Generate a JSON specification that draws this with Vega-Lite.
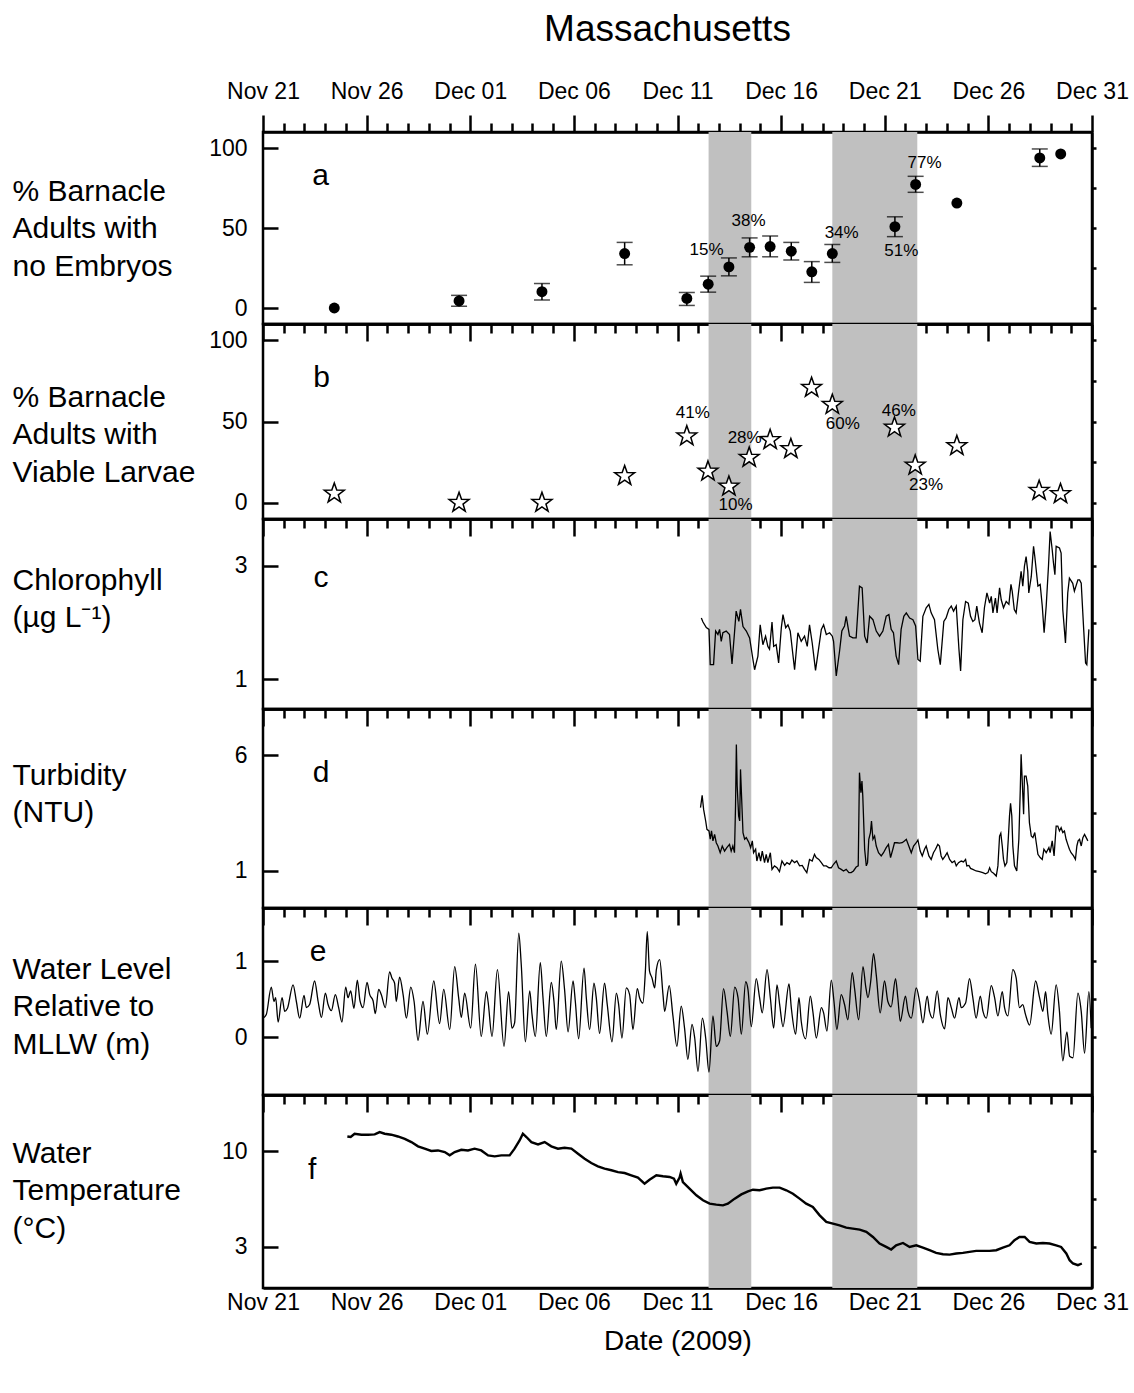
{
"$schema": "https://vega.github.io/schema/vega-lite/v6.json",
"padding": {"left": 10, "top": 10, "right": 5, "bottom": 5},
"background": "white",
"title": {"text": "Massachusetts", "fontSize": 37, "fontWeight": "normal", "anchor": "middle", "frame": "group", "dx": -10, "offset": 30, "color": "black", "font": "Liberation Sans"},
"config": {
  "font": "Liberation Sans",
  "view": {"stroke": "black", "strokeWidth": 2.5},
  "axis": {"domainColor": "black", "domainWidth": 2.5, "tickColor": "black", "tickWidth": 2.5, "labelColor": "black", "labelFontSize": 23, "labelFont": "Liberation Sans", "titleColor": "black", "titleFont": "Liberation Sans", "titleFontWeight": "normal", "grid": false, "zindex": 1, "labelFlush": false, "labelOverlap": false, "labelBound": false}
},
"datasets": {
  "bands": [{"start": 21.5, "end": 23.56}, {"start": 27.47, "end": 31.57}],
  "embryo": [
    {"day":3.44,"pct":0,"lo":null,"hi":null},
    {"day":9.46,"pct":4.4,"lo":1.1,"hi":7.9},
    {"day":13.46,"pct":10.2,"lo":5.0,"hi":15.3},
    {"day":17.45,"pct":34.0,"lo":27,"hi":41},
    {"day":20.45,"pct":6,"lo":1.6,"hi":9.7},
    {"day":21.48,"pct":14.9,"lo":9.9,"hi":19.9},
    {"day":22.48,"pct":25.7,"lo":20.1,"hi":31.3},
    {"day":23.48,"pct":37.9,"lo":32,"hi":43.8},
    {"day":24.47,"pct":38.4,"lo":32,"hi":45},
    {"day":25.49,"pct":35.5,"lo":30,"hi":41},
    {"day":26.48,"pct":22.6,"lo":16,"hi":29},
    {"day":27.47,"pct":34,"lo":28.5,"hi":39.7},
    {"day":30.49,"pct":50.8,"lo":44.6,"hi":57},
    {"day":31.49,"pct":77.2,"lo":72.3,"hi":82.3},
    {"day":33.48,"pct":65.6,"lo":null,"hi":null},
    {"day":37.48,"pct":93.8,"lo":88.5,"hi":99.4},
    {"day":38.49,"pct":96.3,"lo":null,"hi":null}
  ],
  "embryoLabels": [
    {"day":21.4,"pct":36.3,"label":"15%"},
    {"day":23.43,"pct":54.1,"label":"38%"},
    {"day":27.92,"pct":46.9,"label":"34%"},
    {"day":30.8,"pct":35.7,"label":"51%"},
    {"day":31.92,"pct":90.4,"label":"77%"}
  ],
  "larvae": [
    {"day":3.44,"pct":5.7},{"day":9.46,"pct":0},{"day":13.46,"pct":0},{"day":17.45,"pct":16.5},{"day":20.45,"pct":41},{"day":21.47,"pct":19.3},{"day":22.48,"pct":10},{"day":23.46,"pct":27.8},{"day":24.47,"pct":38.7},{"day":25.47,"pct":33.1},{"day":26.47,"pct":70.8},{"day":27.47,"pct":60.3},{"day":30.47,"pct":46.3},{"day":31.47,"pct":23},{"day":33.48,"pct":35},{"day":37.45,"pct":7.4},{"day":38.48,"pct":5.4}
  ],
  "larvaeLabels": [
    {"day":20.74,"pct":55.1,"label":"41%"},
    {"day":22.8,"pct":-1.4,"label":"10%"},
    {"day":23.24,"pct":39.7,"label":"28%"},
    {"day":27.98,"pct":48.6,"label":"60%"},
    {"day":30.68,"pct":56.2,"label":"46%"},
    {"day":31.99,"pct":11,"label":"23%"}
  ],
  "chl": [{"day":21.15,"chl":2.08},{"day":21.23,"chl":2.01},{"day":21.39,"chl":1.91},{"day":21.52,"chl":1.88},{"day":21.58,"chl":1.26},{"day":21.74,"chl":1.26},{"day":21.84,"chl":1.85},{"day":21.95,"chl":1.79},{"day":22.03,"chl":1.88},{"day":22.11,"chl":1.67},{"day":22.19,"chl":1.82},{"day":22.35,"chl":1.85},{"day":22.51,"chl":1.79},{"day":22.63,"chl":1.27},{"day":22.75,"chl":1.82},{"day":22.83,"chl":2.2},{"day":22.96,"chl":2.02},{"day":23.04,"chl":2.23},{"day":23.16,"chl":1.93},{"day":23.32,"chl":1.85},{"day":23.48,"chl":1.73},{"day":23.64,"chl":1.35},{"day":23.72,"chl":1.17},{"day":23.88,"chl":1.41},{"day":23.99,"chl":1.96},{"day":24.12,"chl":1.61},{"day":24.25,"chl":1.76},{"day":24.36,"chl":1.58},{"day":24.44,"chl":1.53},{"day":24.56,"chl":2.01},{"day":24.64,"chl":1.58},{"day":24.76,"chl":1.61},{"day":24.88,"chl":1.29},{"day":25.01,"chl":1.91},{"day":25.09,"chl":2.14},{"day":25.22,"chl":1.91},{"day":25.33,"chl":1.96},{"day":25.44,"chl":1.85},{"day":25.65,"chl":1.17},{"day":25.81,"chl":1.82},{"day":25.97,"chl":1.67},{"day":26.13,"chl":1.76},{"day":26.26,"chl":1.58},{"day":26.37,"chl":1.96},{"day":26.5,"chl":1.64},{"day":26.66,"chl":1.16},{"day":26.77,"chl":1.44},{"day":26.94,"chl":1.88},{"day":27.05,"chl":1.96},{"day":27.18,"chl":1.79},{"day":27.34,"chl":1.82},{"day":27.47,"chl":1.76},{"day":27.53,"chl":1.67},{"day":27.66,"chl":1.06},{"day":27.82,"chl":1.5},{"day":27.93,"chl":1.85},{"day":28.06,"chl":1.94},{"day":28.14,"chl":2.11},{"day":28.3,"chl":1.76},{"day":28.46,"chl":1.73},{"day":28.62,"chl":1.73},{"day":28.78,"chl":2.64},{"day":28.91,"chl":2.61},{"day":29.03,"chl":1.76},{"day":29.15,"chl":1.64},{"day":29.27,"chl":2.11},{"day":29.43,"chl":2.05},{"day":29.59,"chl":1.85},{"day":29.75,"chl":1.76},{"day":29.91,"chl":1.85},{"day":30.07,"chl":2.11},{"day":30.2,"chl":2.14},{"day":30.31,"chl":1.88},{"day":30.42,"chl":1.82},{"day":30.55,"chl":1.41},{"day":30.67,"chl":1.26},{"day":30.79,"chl":1.88},{"day":30.92,"chl":2.11},{"day":31.04,"chl":2.17},{"day":31.2,"chl":2.08},{"day":31.36,"chl":2.05},{"day":31.49,"chl":1.94},{"day":31.6,"chl":1.35},{"day":31.71,"chl":1.32},{"day":31.84,"chl":2.11},{"day":32.0,"chl":2.26},{"day":32.13,"chl":2.32},{"day":32.24,"chl":2.17},{"day":32.4,"chl":2.05},{"day":32.56,"chl":1.53},{"day":32.68,"chl":1.26},{"day":32.85,"chl":2.02},{"day":32.96,"chl":2.08},{"day":33.09,"chl":2.23},{"day":33.21,"chl":2.29},{"day":33.32,"chl":2.2},{"day":33.45,"chl":2.29},{"day":33.58,"chl":1.53},{"day":33.66,"chl":1.15},{"day":33.77,"chl":2.05},{"day":33.9,"chl":2.37},{"day":34.03,"chl":2.34},{"day":34.14,"chl":2.11},{"day":34.25,"chl":2.02},{"day":34.35,"chl":2.05},{"day":34.44,"chl":2.29},{"day":34.57,"chl":1.99},{"day":34.7,"chl":1.82},{"day":34.81,"chl":2.26},{"day":34.93,"chl":2.52},{"day":35.06,"chl":2.34},{"day":35.14,"chl":2.46},{"day":35.22,"chl":2.17},{"day":35.34,"chl":2.43},{"day":35.42,"chl":2.17},{"day":35.54,"chl":2.61},{"day":35.62,"chl":2.4},{"day":35.73,"chl":2.26},{"day":35.86,"chl":2.37},{"day":35.99,"chl":2.32},{"day":36.09,"chl":2.67},{"day":36.15,"chl":2.55},{"day":36.25,"chl":2.23},{"day":36.34,"chl":2.17},{"day":36.47,"chl":2.58},{"day":36.58,"chl":2.9},{"day":36.66,"chl":2.64},{"day":36.74,"chl":2.99},{"day":36.82,"chl":3.16},{"day":36.9,"chl":2.9},{"day":36.95,"chl":2.52},{"day":37.07,"chl":2.81},{"day":37.18,"chl":3.34},{"day":37.24,"chl":3.16},{"day":37.39,"chl":2.64},{"day":37.5,"chl":2.67},{"day":37.6,"chl":2.29},{"day":37.69,"chl":1.82},{"day":37.79,"chl":2.29},{"day":37.9,"chl":2.99},{"day":37.98,"chl":3.6},{"day":38.08,"chl":3.28},{"day":38.14,"chl":3.05},{"day":38.21,"chl":2.84},{"day":38.27,"chl":3.34},{"day":38.43,"chl":3.31},{"day":38.51,"chl":3.22},{"day":38.59,"chl":2.23},{"day":38.72,"chl":1.64},{"day":38.83,"chl":2.52},{"day":38.91,"chl":2.78},{"day":39.07,"chl":2.69},{"day":39.15,"chl":2.55},{"day":39.32,"chl":2.75},{"day":39.4,"chl":2.75},{"day":39.48,"chl":2.69},{"day":39.59,"chl":1.94},{"day":39.69,"chl":1.29},{"day":39.75,"chl":1.26},{"day":39.85,"chl":1.88}],
  "turb": [{"day":21.11,"ntu":3.74},{"day":21.19,"ntu":4.27},{"day":21.26,"ntu":3.66},{"day":21.36,"ntu":3.16},{"day":21.42,"ntu":2.8},{"day":21.52,"ntu":2.73},{"day":21.58,"ntu":2.37},{"day":21.64,"ntu":2.73},{"day":21.71,"ntu":2.3},{"day":21.79,"ntu":2.58},{"day":21.87,"ntu":2.22},{"day":21.95,"ntu":2.08},{"day":22.06,"ntu":1.79},{"day":22.16,"ntu":2.08},{"day":22.27,"ntu":1.86},{"day":22.38,"ntu":2.01},{"day":22.51,"ntu":2.15},{"day":22.59,"ntu":1.86},{"day":22.67,"ntu":2.08},{"day":22.75,"ntu":1.79},{"day":22.8,"ntu":3.81},{"day":22.84,"ntu":6.47},{"day":22.88,"ntu":4.67},{"day":22.95,"ntu":3.38},{"day":23.0,"ntu":3.16},{"day":23.04,"ntu":5.39},{"day":23.09,"ntu":4.24},{"day":23.16,"ntu":2.66},{"day":23.24,"ntu":2.37},{"day":23.32,"ntu":2.44},{"day":23.45,"ntu":2.22},{"day":23.53,"ntu":2.01},{"day":23.61,"ntu":2.3},{"day":23.67,"ntu":1.79},{"day":23.77,"ntu":1.94},{"day":23.83,"ntu":1.43},{"day":23.93,"ntu":1.79},{"day":24.01,"ntu":1.43},{"day":24.09,"ntu":1.86},{"day":24.2,"ntu":1.36},{"day":24.28,"ntu":1.72},{"day":24.36,"ntu":1.36},{"day":24.48,"ntu":1.79},{"day":24.56,"ntu":1.07},{"day":24.68,"ntu":1.22},{"day":24.8,"ntu":1.14},{"day":24.92,"ntu":0.97},{"day":25.04,"ntu":1.43},{"day":25.17,"ntu":1.24},{"day":25.28,"ntu":1.36},{"day":25.41,"ntu":1.29},{"day":25.52,"ntu":1.47},{"day":25.65,"ntu":1.36},{"day":25.76,"ntu":1.43},{"day":25.89,"ntu":1.22},{"day":26.02,"ntu":1.24},{"day":26.13,"ntu":1.07},{"day":26.24,"ntu":0.93},{"day":26.37,"ntu":1.5},{"day":26.5,"ntu":1.43},{"day":26.61,"ntu":1.72},{"day":26.69,"ntu":1.58},{"day":26.82,"ntu":1.5},{"day":26.94,"ntu":1.36},{"day":27.05,"ntu":1.22},{"day":27.18,"ntu":1.22},{"day":27.31,"ntu":1.14},{"day":27.42,"ntu":1.14},{"day":27.53,"ntu":1.29},{"day":27.66,"ntu":1.43},{"day":27.77,"ntu":1.14},{"day":27.9,"ntu":1.07},{"day":28.01,"ntu":1.0},{"day":28.14,"ntu":1.07},{"day":28.27,"ntu":0.93},{"day":28.38,"ntu":0.93},{"day":28.49,"ntu":1.0},{"day":28.62,"ntu":1.17},{"day":28.72,"ntu":1.22},{"day":28.78,"ntu":5.25},{"day":28.85,"ntu":4.38},{"day":28.9,"ntu":4.89},{"day":28.94,"ntu":4.24},{"day":29.03,"ntu":1.94},{"day":29.11,"ntu":1.22},{"day":29.17,"ntu":1.36},{"day":29.23,"ntu":2.37},{"day":29.31,"ntu":2.66},{"day":29.36,"ntu":3.16},{"day":29.43,"ntu":2.37},{"day":29.51,"ntu":2.51},{"day":29.59,"ntu":2.08},{"day":29.7,"ntu":1.79},{"day":29.83,"ntu":1.65},{"day":29.94,"ntu":1.79},{"day":30.07,"ntu":2.01},{"day":30.18,"ntu":2.15},{"day":30.28,"ntu":1.58},{"day":30.39,"ntu":1.94},{"day":30.47,"ntu":2.22},{"day":30.59,"ntu":2.22},{"day":30.71,"ntu":2.2},{"day":30.84,"ntu":2.22},{"day":30.95,"ntu":2.3},{"day":31.04,"ntu":2.37},{"day":31.16,"ntu":2.08},{"day":31.28,"ntu":1.79},{"day":31.39,"ntu":2.08},{"day":31.52,"ntu":2.22},{"day":31.6,"ntu":2.34},{"day":31.71,"ntu":1.86},{"day":31.81,"ntu":1.65},{"day":31.92,"ntu":1.94},{"day":32.0,"ntu":2.08},{"day":32.13,"ntu":1.65},{"day":32.24,"ntu":1.5},{"day":32.35,"ntu":1.79},{"day":32.45,"ntu":1.94},{"day":32.56,"ntu":2.15},{"day":32.64,"ntu":2.08},{"day":32.72,"ntu":1.65},{"day":32.8,"ntu":1.5},{"day":32.92,"ntu":1.65},{"day":33.01,"ntu":1.79},{"day":33.13,"ntu":1.5},{"day":33.25,"ntu":1.36},{"day":33.37,"ntu":1.43},{"day":33.45,"ntu":1.22},{"day":33.56,"ntu":1.36},{"day":33.69,"ntu":1.43},{"day":33.8,"ntu":1.39},{"day":33.9,"ntu":1.5},{"day":33.96,"ntu":1.22},{"day":34.06,"ntu":1.24},{"day":34.14,"ntu":1.11},{"day":34.25,"ntu":1.07},{"day":34.41,"ntu":1.0},{"day":34.57,"ntu":0.97},{"day":34.73,"ntu":0.93},{"day":34.86,"ntu":0.88},{"day":34.98,"ntu":0.93},{"day":35.06,"ntu":1.14},{"day":35.14,"ntu":0.97},{"day":35.25,"ntu":0.9},{"day":35.38,"ntu":0.78},{"day":35.46,"ntu":1.22},{"day":35.54,"ntu":2.51},{"day":35.6,"ntu":2.63},{"day":35.67,"ntu":2.08},{"day":35.73,"ntu":1.5},{"day":35.8,"ntu":1.22},{"day":35.89,"ntu":1.36},{"day":35.96,"ntu":2.37},{"day":36.02,"ntu":3.38},{"day":36.07,"ntu":3.92},{"day":36.13,"ntu":3.38},{"day":36.18,"ntu":2.08},{"day":36.26,"ntu":1.22},{"day":36.37,"ntu":1.0},{"day":36.47,"ntu":2.37},{"day":36.54,"ntu":4.53},{"day":36.58,"ntu":6.04},{"day":36.63,"ntu":4.96},{"day":36.7,"ntu":3.45},{"day":36.74,"ntu":5.1},{"day":36.82,"ntu":5.1},{"day":36.9,"ntu":4.67},{"day":36.98,"ntu":3.09},{"day":37.07,"ntu":2.51},{"day":37.15,"ntu":2.44},{"day":37.24,"ntu":2.66},{"day":37.31,"ntu":2.22},{"day":37.39,"ntu":1.72},{"day":37.5,"ntu":1.58},{"day":37.6,"ntu":1.5},{"day":37.68,"ntu":1.94},{"day":37.79,"ntu":1.79},{"day":37.92,"ntu":2.01},{"day":37.98,"ntu":1.79},{"day":38.08,"ntu":2.3},{"day":38.17,"ntu":1.65},{"day":38.27,"ntu":2.94},{"day":38.35,"ntu":2.94},{"day":38.43,"ntu":2.73},{"day":38.51,"ntu":2.87},{"day":38.59,"ntu":2.66},{"day":38.67,"ntu":2.73},{"day":38.75,"ntu":2.37},{"day":38.83,"ntu":2.15},{"day":38.91,"ntu":1.94},{"day":38.99,"ntu":1.79},{"day":39.11,"ntu":1.65},{"day":39.2,"ntu":1.5},{"day":39.27,"ntu":2.08},{"day":39.33,"ntu":2.3},{"day":39.4,"ntu":2.37},{"day":39.48,"ntu":2.08},{"day":39.56,"ntu":2.44},{"day":39.64,"ntu":2.58},{"day":39.72,"ntu":2.44},{"day":39.8,"ntu":2.3}],
  "wl": [{"day":0.0,"lvl":0.25},{"day":0.16,"lvl":0.3},{"day":0.4,"lvl":0.66},{"day":0.53,"lvl":0.47},{"day":0.61,"lvl":0.52},{"day":0.73,"lvl":0.2},{"day":0.92,"lvl":0.52},{"day":1.05,"lvl":0.34},{"day":1.18,"lvl":0.38},{"day":1.45,"lvl":0.69},{"day":1.61,"lvl":0.47},{"day":1.77,"lvl":0.25},{"day":1.98,"lvl":0.55},{"day":2.09,"lvl":0.39},{"day":2.25,"lvl":0.43},{"day":2.49,"lvl":0.74},{"day":2.66,"lvl":0.47},{"day":2.82,"lvl":0.26},{"day":3.01,"lvl":0.58},{"day":3.14,"lvl":0.43},{"day":3.3,"lvl":0.35},{"day":3.49,"lvl":0.56},{"day":3.65,"lvl":0.39},{"day":3.81,"lvl":0.2},{"day":3.99,"lvl":0.66},{"day":4.1,"lvl":0.52},{"day":4.23,"lvl":0.61},{"day":4.39,"lvl":0.38},{"day":4.55,"lvl":0.75},{"day":4.68,"lvl":0.48},{"day":4.83,"lvl":0.39},{"day":5.02,"lvl":0.72},{"day":5.15,"lvl":0.56},{"day":5.31,"lvl":0.48},{"day":5.42,"lvl":0.31},{"day":5.58,"lvl":0.63},{"day":5.71,"lvl":0.56},{"day":5.9,"lvl":0.39},{"day":6.11,"lvl":0.86},{"day":6.22,"lvl":0.78},{"day":6.35,"lvl":0.71},{"day":6.43,"lvl":0.47},{"day":6.59,"lvl":0.79},{"day":6.76,"lvl":0.56},{"day":6.92,"lvl":0.25},{"day":7.13,"lvl":0.66},{"day":7.29,"lvl":0.47},{"day":7.48,"lvl":-0.04},{"day":7.72,"lvl":0.47},{"day":7.93,"lvl":0.04},{"day":8.24,"lvl":0.74},{"day":8.52,"lvl":0.18},{"day":8.72,"lvl":0.63},{"day":9.01,"lvl":0.1},{"day":9.25,"lvl":0.93},{"day":9.44,"lvl":0.52},{"day":9.57,"lvl":0.26},{"day":9.73,"lvl":0.58},{"day":10.02,"lvl":0.12},{"day":10.25,"lvl":0.96},{"day":10.53,"lvl":0.01},{"day":10.78,"lvl":0.6},{"day":10.86,"lvl":0.47},{"day":11.05,"lvl":0.01},{"day":11.31,"lvl":0.89},{"day":11.63,"lvl":-0.12},{"day":11.85,"lvl":0.6},{"day":12.01,"lvl":0.12},{"day":12.14,"lvl":0.19},{"day":12.34,"lvl":1.37},{"day":12.46,"lvl":0.96},{"day":12.66,"lvl":-0.06},{"day":12.87,"lvl":0.61},{"day":12.98,"lvl":0.3},{"day":13.14,"lvl":0.01},{"day":13.38,"lvl":0.98},{"day":13.51,"lvl":0.52},{"day":13.67,"lvl":0.01},{"day":13.91,"lvl":0.72},{"day":14.04,"lvl":0.47},{"day":14.15,"lvl":0.1},{"day":14.39,"lvl":1.0},{"day":14.55,"lvl":0.63},{"day":14.72,"lvl":0.07},{"day":14.96,"lvl":0.74},{"day":15.07,"lvl":0.47},{"day":15.23,"lvl":-0.02},{"day":15.49,"lvl":0.91},{"day":15.6,"lvl":0.52},{"day":15.76,"lvl":0.1},{"day":15.97,"lvl":0.71},{"day":16.08,"lvl":0.52},{"day":16.24,"lvl":0.05},{"day":16.48,"lvl":0.71},{"day":16.61,"lvl":0.43},{"day":16.84,"lvl":-0.06},{"day":17.05,"lvl":0.58},{"day":17.16,"lvl":0.43},{"day":17.32,"lvl":-0.01},{"day":17.53,"lvl":0.65},{"day":17.69,"lvl":0.56},{"day":17.85,"lvl":0.1},{"day":18.06,"lvl":0.64},{"day":18.17,"lvl":0.52},{"day":18.33,"lvl":0.45},{"day":18.45,"lvl":0.87},{"day":18.54,"lvl":1.39},{"day":18.65,"lvl":0.87},{"day":18.77,"lvl":0.78},{"day":18.9,"lvl":0.65},{"day":18.98,"lvl":0.89},{"day":19.14,"lvl":1.02},{"day":19.3,"lvl":0.56},{"day":19.38,"lvl":0.34},{"day":19.6,"lvl":0.68},{"day":19.78,"lvl":0.28},{"day":19.97,"lvl":-0.12},{"day":20.18,"lvl":0.41},{"day":20.34,"lvl":0.12},{"day":20.5,"lvl":-0.29},{"day":20.7,"lvl":0.17},{"day":20.83,"lvl":-0.01},{"day":20.99,"lvl":-0.45},{"day":21.2,"lvl":0.25},{"day":21.36,"lvl":-0.01},{"day":21.52,"lvl":-0.46},{"day":21.71,"lvl":0.28},{"day":21.87,"lvl":-0.12},{"day":22.03,"lvl":-0.05},{"day":22.22,"lvl":0.64},{"day":22.39,"lvl":0.34},{"day":22.55,"lvl":0.01},{"day":22.76,"lvl":0.66},{"day":22.92,"lvl":0.52},{"day":23.08,"lvl":0.04},{"day":23.29,"lvl":0.73},{"day":23.4,"lvl":0.63},{"day":23.56,"lvl":0.14},{"day":23.8,"lvl":0.77},{"day":23.96,"lvl":0.52},{"day":24.09,"lvl":0.32},{"day":24.32,"lvl":0.89},{"day":24.48,"lvl":0.52},{"day":24.64,"lvl":0.12},{"day":24.8,"lvl":0.69},{"day":24.93,"lvl":0.43},{"day":25.09,"lvl":0.14},{"day":25.38,"lvl":0.7},{"day":25.49,"lvl":0.39},{"day":25.7,"lvl":0.04},{"day":25.86,"lvl":0.52},{"day":25.97,"lvl":0.21},{"day":26.18,"lvl":-0.02},{"day":26.41,"lvl":0.54},{"day":26.53,"lvl":0.34},{"day":26.7,"lvl":-0.01},{"day":26.94,"lvl":0.39},{"day":27.05,"lvl":0.32},{"day":27.21,"lvl":0.08},{"day":27.42,"lvl":0.75},{"day":27.55,"lvl":0.47},{"day":27.69,"lvl":0.1},{"day":27.9,"lvl":0.56},{"day":28.06,"lvl":0.43},{"day":28.22,"lvl":0.23},{"day":28.43,"lvl":0.85},{"day":28.54,"lvl":0.65},{"day":28.74,"lvl":0.23},{"day":28.95,"lvl":0.93},{"day":29.08,"lvl":0.67},{"day":29.19,"lvl":0.52},{"day":29.32,"lvl":0.73},{"day":29.46,"lvl":1.1},{"day":29.59,"lvl":0.82},{"day":29.78,"lvl":0.32},{"day":29.99,"lvl":0.74},{"day":30.15,"lvl":0.47},{"day":30.31,"lvl":0.4},{"day":30.52,"lvl":0.77},{"day":30.63,"lvl":0.52},{"day":30.75,"lvl":0.21},{"day":31.0,"lvl":0.54},{"day":31.12,"lvl":0.34},{"day":31.28,"lvl":0.25},{"day":31.52,"lvl":0.65},{"day":31.68,"lvl":0.47},{"day":31.84,"lvl":0.19},{"day":32.05,"lvl":0.54},{"day":32.16,"lvl":0.34},{"day":32.32,"lvl":0.25},{"day":32.53,"lvl":0.61},{"day":32.68,"lvl":0.3},{"day":32.89,"lvl":0.11},{"day":33.05,"lvl":0.52},{"day":33.21,"lvl":0.39},{"day":33.37,"lvl":0.25},{"day":33.58,"lvl":0.52},{"day":33.69,"lvl":0.39},{"day":33.9,"lvl":0.45},{"day":34.09,"lvl":0.77},{"day":34.25,"lvl":0.52},{"day":34.41,"lvl":0.25},{"day":34.61,"lvl":0.54},{"day":34.74,"lvl":0.34},{"day":34.9,"lvl":0.25},{"day":35.14,"lvl":0.68},{"day":35.3,"lvl":0.52},{"day":35.46,"lvl":0.28},{"day":35.67,"lvl":0.6},{"day":35.78,"lvl":0.39},{"day":35.94,"lvl":0.28},{"day":36.18,"lvl":0.89},{"day":36.34,"lvl":0.78},{"day":36.5,"lvl":0.39},{"day":36.66,"lvl":0.43},{"day":36.79,"lvl":0.3},{"day":36.99,"lvl":0.16},{"day":37.28,"lvl":0.74},{"day":37.47,"lvl":0.52},{"day":37.63,"lvl":0.34},{"day":37.76,"lvl":0.6},{"day":37.87,"lvl":0.3},{"day":38.03,"lvl":0.04},{"day":38.27,"lvl":0.69},{"day":38.43,"lvl":0.34},{"day":38.59,"lvl":-0.31},{"day":38.79,"lvl":0.07},{"day":38.92,"lvl":-0.25},{"day":39.08,"lvl":-0.27},{"day":39.32,"lvl":0.58},{"day":39.48,"lvl":0.34},{"day":39.64,"lvl":-0.21},{"day":39.85,"lvl":0.6},{"day":39.96,"lvl":0.12}],
  "temp": [{"day":4.07,"t":11.07},{"day":4.23,"t":11.03},{"day":4.42,"t":11.27},{"day":4.75,"t":11.2},{"day":5.07,"t":11.2},{"day":5.39,"t":11.22},{"day":5.63,"t":11.39},{"day":5.87,"t":11.27},{"day":6.19,"t":11.2},{"day":6.51,"t":11.07},{"day":6.84,"t":10.9},{"day":7.16,"t":10.66},{"day":7.48,"t":10.35},{"day":7.8,"t":10.18},{"day":8.12,"t":10.01},{"day":8.44,"t":10.05},{"day":8.77,"t":9.93},{"day":9.01,"t":9.69},{"day":9.25,"t":9.93},{"day":9.57,"t":10.1},{"day":9.89,"t":10.05},{"day":10.21,"t":10.18},{"day":10.53,"t":10.05},{"day":10.86,"t":9.69},{"day":11.18,"t":9.62},{"day":11.5,"t":9.69},{"day":11.9,"t":9.69},{"day":12.14,"t":10.18},{"day":12.38,"t":10.78},{"day":12.54,"t":11.27},{"day":12.71,"t":11.03},{"day":12.95,"t":10.66},{"day":13.27,"t":10.49},{"day":13.59,"t":10.66},{"day":13.91,"t":10.35},{"day":14.23,"t":10.18},{"day":14.55,"t":10.25},{"day":14.88,"t":10.18},{"day":15.2,"t":9.81},{"day":15.52,"t":9.45},{"day":15.84,"t":9.13},{"day":16.16,"t":8.89},{"day":16.48,"t":8.72},{"day":16.81,"t":8.6},{"day":17.13,"t":8.47},{"day":17.45,"t":8.4},{"day":17.77,"t":8.23},{"day":18.09,"t":8.06},{"day":18.41,"t":7.62},{"day":18.65,"t":7.91},{"day":18.98,"t":8.23},{"day":19.3,"t":8.16},{"day":19.62,"t":8.11},{"day":19.83,"t":7.99},{"day":19.94,"t":7.62},{"day":20.1,"t":8.06},{"day":20.15,"t":8.35},{"day":20.26,"t":7.74},{"day":20.58,"t":7.26},{"day":20.91,"t":6.77},{"day":21.23,"t":6.41},{"day":21.55,"t":6.16},{"day":21.87,"t":6.09},{"day":22.19,"t":6.04},{"day":22.43,"t":6.16},{"day":22.76,"t":6.53},{"day":23.08,"t":6.84},{"day":23.4,"t":7.06},{"day":23.64,"t":7.18},{"day":23.96,"t":7.14},{"day":24.28,"t":7.26},{"day":24.6,"t":7.33},{"day":24.93,"t":7.33},{"day":25.25,"t":7.14},{"day":25.57,"t":6.89},{"day":25.89,"t":6.53},{"day":26.21,"t":6.16},{"day":26.53,"t":5.92},{"day":26.86,"t":5.31},{"day":27.18,"t":4.83},{"day":27.5,"t":4.7},{"day":27.82,"t":4.58},{"day":28.14,"t":4.41},{"day":28.46,"t":4.34},{"day":28.79,"t":4.27},{"day":29.11,"t":4.1},{"day":29.43,"t":3.73},{"day":29.75,"t":3.25},{"day":30.07,"t":3.0},{"day":30.31,"t":2.81},{"day":30.55,"t":3.12},{"day":30.88,"t":3.29},{"day":31.2,"t":3.0},{"day":31.52,"t":3.12},{"day":31.84,"t":2.95},{"day":32.16,"t":2.76},{"day":32.48,"t":2.57},{"day":32.81,"t":2.47},{"day":33.13,"t":2.44},{"day":33.45,"t":2.52},{"day":33.77,"t":2.57},{"day":34.09,"t":2.64},{"day":34.41,"t":2.71},{"day":34.74,"t":2.71},{"day":35.06,"t":2.71},{"day":35.38,"t":2.76},{"day":35.7,"t":2.95},{"day":36.02,"t":3.12},{"day":36.26,"t":3.49},{"day":36.5,"t":3.73},{"day":36.75,"t":3.73},{"day":36.99,"t":3.37},{"day":37.31,"t":3.25},{"day":37.63,"t":3.29},{"day":37.95,"t":3.25},{"day":38.27,"t":3.12},{"day":38.51,"t":3.0},{"day":38.76,"t":2.52},{"day":38.92,"t":2.03},{"day":39.08,"t":1.79},{"day":39.32,"t":1.67},{"day":39.51,"t":1.79}]
},
"spacing": 0,
"bounds": "flush",
"vconcat": [
  {
    "width": 829, "height": 192,
    "layer": [
      {"data": {"name": "bands"}, "mark": {"type": "rect", "color": "#c0c0c0"},
       "encoding": {"x": {"field": "start", "type": "quantitative", "scale": {"domain": [0, 40], "nice": false, "zero": false},
         "axis": {"orient": "top", "values": [0,1,2,3,4,5,6,7,8,9,10,11,12,13,14,15,16,17,18,19,20,21,22,23,24,25,26,27,28,29,30,31,32,33,34,35,36,37,38,39,40], "tickSize": {"condition": {"test": "datum.value % 5 === 0", "value": 17}, "value": 9}, "labelExpr": "datum.value % 5 === 0 ? timeFormat(datetime(2009, 10, 21 + datum.value), '%b %d') : ''", "labelPadding": 12, "title": null}},
        "x2": {"field": "end"}}},
      {"data": {"name": "embryo"}, "transform": [{"filter": "isValid(datum.lo)"}], "mark": {"type": "rule", "color": "black", "strokeWidth": 1.5},
       "encoding": {"x": {"field": "day", "type": "quantitative", "axis": {"orient": "bottom", "ticks": false, "labels": false, "title": null}},
        "y": {"field": "lo", "type": "quantitative", "scale": {"domain": [-10, 110], "nice": false, "zero": false},
          "axis": {"orient": "left", "values": [0, 50, 100], "offset": -15, "tickSize": 15, "domain": false, "labelPadding": 16, "title": ["% Barnacle", "Adults with", "no Embryos"], "titleAngle": 0, "titleAlign": "left", "titleBaseline": "middle", "titleX": -266, "titleY": 59, "titleFontSize": 30, "titleLineHeight": 37.5}},
        "y2": {"field": "hi"}}},
      {"data": {"name": "embryo"}, "transform": [{"filter": "isValid(datum.lo)"}], "mark": {"type": "tick", "orient": "horizontal", "color": "black", "size": 16, "thickness": 1.5},
       "encoding": {"x": {"field": "day", "type": "quantitative", "axis": null}, "y": {"field": "lo", "type": "quantitative", "axis": null}}},
      {"data": {"name": "embryo"}, "transform": [{"filter": "isValid(datum.hi)"}], "mark": {"type": "tick", "orient": "horizontal", "color": "black", "size": 16, "thickness": 1.5},
       "encoding": {"x": {"field": "day", "type": "quantitative", "axis": null}, "y": {"field": "hi", "type": "quantitative", "axis": null}}},
      {"data": {"name": "embryo"}, "mark": {"type": "point", "shape": "circle", "filled": true, "color": "black", "size": 120, "opacity": 1},
       "encoding": {"x": {"field": "day", "type": "quantitative", "axis": null}, "y": {"field": "pct", "type": "quantitative", "axis": null}}},
      {"data": {"name": "embryoLabels"}, "mark": {"type": "text", "fontSize": 17, "color": "black"},
       "encoding": {"x": {"field": "day", "type": "quantitative", "axis": null}, "y": {"field": "pct", "type": "quantitative", "axis": null}, "text": {"field": "label"}}},
      {"data": {"values": [{}]}, "mark": {"type": "text", "fontSize": 30, "baseline": "alphabetic", "color": "black"},
       "encoding": {"x": {"datum": 2.78, "type": "quantitative", "axis": null}, "y": {"datum": 77, "type": "quantitative", "axis": {"orient": "right", "values": [0, 25, 50, 75, 100], "tickSize": 4, "labels": false, "title": null}}, "text": {"value": "a"}}}
    ],
    "resolve": {"axis": {"x": "independent", "y": "independent"}}
  },
  {
    "width": 829, "height": 195,
    "layer": [
      {"data": {"name": "bands"}, "mark": {"type": "rect", "color": "#c0c0c0"},
       "encoding": {"x": {"field": "start", "type": "quantitative", "scale": {"domain": [0, 40], "nice": false, "zero": false},
         "axis": {"orient": "top", "values": [0,1,2,3,4,5,6,7,8,9,10,11,12,13,14,15,16,17,18,19,20,21,22,23,24,25,26,27,28,29,30,31,32,33,34,35,36,37,38,39,40], "tickSize": {"condition": {"test": "datum.value % 5 === 0", "value": -17}, "value": -9}, "labels": false, "title": null}},
        "x2": {"field": "end"}}},
      {"data": {"name": "larvaeLabels"}, "mark": {"type": "text", "fontSize": 17, "color": "black"},
       "encoding": {"x": {"field": "day", "type": "quantitative", "axis": {"orient": "bottom", "ticks": false, "labels": false, "title": null}},
        "y": {"field": "pct", "type": "quantitative", "scale": {"domain": [-10, 110], "nice": false, "zero": false},
          "axis": {"orient": "left", "values": [0, 50, 100], "offset": -15, "tickSize": 15, "domain": false, "labelPadding": 16, "title": ["% Barnacle", "Adults with", "Viable Larvae"], "titleAngle": 0, "titleAlign": "left", "titleBaseline": "middle", "titleX": -266, "titleY": 73, "titleFontSize": 30, "titleLineHeight": 37.5}},
        "text": {"field": "label"}}},
      {"data": {"name": "larvae"}, "mark": {"type": "point", "shape": "M0,-1L0.235,-0.324L0.951,-0.309L0.38,0.124L0.588,0.809L0,0.4L-0.588,0.809L-0.38,0.124L-0.951,-0.309L-0.235,-0.324Z", "filled": true, "fill": "white", "stroke": "black", "strokeWidth": 1.5, "size": 440, "opacity": 1},
       "encoding": {"x": {"field": "day", "type": "quantitative", "axis": null}, "y": {"field": "pct", "type": "quantitative", "axis": null}}},
      {"data": {"values": [{}]}, "mark": {"type": "text", "fontSize": 30, "baseline": "alphabetic", "color": "black"},
       "encoding": {"x": {"datum": 2.83, "type": "quantitative", "axis": null}, "y": {"datum": 71.4, "type": "quantitative", "axis": {"orient": "right", "values": [0, 25, 50, 75, 100], "tickSize": 4, "labels": false, "title": null}}, "text": {"value": "b"}}}
    ],
    "resolve": {"axis": {"x": "independent", "y": "independent"}}
  },
  {
    "width": 829, "height": 190,
    "layer": [
      {"data": {"name": "bands"}, "mark": {"type": "rect", "color": "#c0c0c0"},
       "encoding": {"x": {"field": "start", "type": "quantitative", "scale": {"domain": [0, 40], "nice": false, "zero": false},
         "axis": {"orient": "top", "values": [0,1,2,3,4,5,6,7,8,9,10,11,12,13,14,15,16,17,18,19,20,21,22,23,24,25,26,27,28,29,30,31,32,33,34,35,36,37,38,39,40], "tickSize": {"condition": {"test": "datum.value % 5 === 0", "value": -17}, "value": -9}, "labels": false, "title": null}},
        "x2": {"field": "end"}}},
      {"data": {"name": "chl"}, "mark": {"type": "line", "color": "black", "strokeWidth": 1.3},
       "encoding": {"x": {"field": "day", "type": "quantitative", "axis": {"orient": "bottom", "ticks": false, "labels": false, "title": null}},
        "y": {"field": "chl", "type": "quantitative", "scale": {"domain": [0.48, 3.82], "nice": false, "zero": false},
          "axis": {"orient": "left", "values": [1, 3], "offset": -15, "tickSize": 15, "domain": false, "labelPadding": 16, "title": ["Chlorophyll", "(µg L⁻¹)"], "titleAngle": 0, "titleAlign": "left", "titleBaseline": "middle", "titleX": -266, "titleY": 61, "titleFontSize": 30, "titleLineHeight": 37.5}}}},
      {"data": {"values": [{}]}, "mark": {"type": "text", "fontSize": 30, "baseline": "alphabetic", "color": "black"},
       "encoding": {"x": {"datum": 2.8, "type": "quantitative", "axis": null}, "y": {"datum": 2.62, "type": "quantitative", "axis": {"orient": "right", "values": [1, 2, 3], "tickSize": 4, "labels": false, "title": null}}, "text": {"value": "c"}}}
    ],
    "resolve": {"axis": {"x": "independent", "y": "independent"}}
  },
  {
    "width": 829, "height": 199,
    "layer": [
      {"data": {"name": "bands"}, "mark": {"type": "rect", "color": "#c0c0c0"},
       "encoding": {"x": {"field": "start", "type": "quantitative", "scale": {"domain": [0, 40], "nice": false, "zero": false},
         "axis": {"orient": "top", "values": [0,1,2,3,4,5,6,7,8,9,10,11,12,13,14,15,16,17,18,19,20,21,22,23,24,25,26,27,28,29,30,31,32,33,34,35,36,37,38,39,40], "tickSize": {"condition": {"test": "datum.value % 5 === 0", "value": -17}, "value": -9}, "labels": false, "title": null}},
        "x2": {"field": "end"}}},
      {"data": {"name": "turb"}, "mark": {"type": "line", "color": "black", "strokeWidth": 1.3},
       "encoding": {"x": {"field": "day", "type": "quantitative", "axis": {"orient": "bottom", "ticks": false, "labels": false, "title": null}},
        "y": {"field": "ntu", "type": "quantitative", "scale": {"domain": [-0.6, 8.0], "nice": false, "zero": false},
          "axis": {"orient": "left", "values": [1, 6], "offset": -15, "tickSize": 15, "domain": false, "labelPadding": 16, "title": ["Turbidity", "(NTU)"], "titleAngle": 0, "titleAlign": "left", "titleBaseline": "middle", "titleX": -266, "titleY": 66, "titleFontSize": 30, "titleLineHeight": 37.5}}}},
      {"data": {"values": [{}]}, "mark": {"type": "text", "fontSize": 30, "baseline": "alphabetic", "color": "black"},
       "encoding": {"x": {"datum": 2.8, "type": "quantitative", "axis": null}, "y": {"datum": 4.85, "type": "quantitative", "axis": {"orient": "right", "values": [1, 3.5, 6], "tickSize": 4, "labels": false, "title": null}}, "text": {"value": "d"}}}
    ],
    "resolve": {"axis": {"x": "independent", "y": "independent"}}
  },
  {
    "width": 829, "height": 187,
    "layer": [
      {"data": {"name": "bands"}, "mark": {"type": "rect", "color": "#c0c0c0"},
       "encoding": {"x": {"field": "start", "type": "quantitative", "scale": {"domain": [0, 40], "nice": false, "zero": false},
         "axis": {"orient": "top", "values": [0,1,2,3,4,5,6,7,8,9,10,11,12,13,14,15,16,17,18,19,20,21,22,23,24,25,26,27,28,29,30,31,32,33,34,35,36,37,38,39,40], "tickSize": {"condition": {"test": "datum.value % 5 === 0", "value": -17}, "value": -9}, "labels": false, "title": null}},
        "x2": {"field": "end"}}},
      {"data": {"name": "wl"}, "mark": {"type": "line", "color": "black", "strokeWidth": 1.3, "interpolate": "monotone"},
       "encoding": {"x": {"field": "day", "type": "quantitative", "axis": {"orient": "bottom", "ticks": false, "labels": false, "title": null}},
        "y": {"field": "lvl", "type": "quantitative", "scale": {"domain": [-0.76, 1.7], "nice": false, "zero": false},
          "axis": {"orient": "left", "values": [0, 1], "offset": -15, "tickSize": 15, "domain": false, "labelPadding": 16, "title": ["Water Level", "Relative to", "MLLW (m)"], "titleAngle": 0, "titleAlign": "left", "titleBaseline": "middle", "titleX": -266, "titleY": 61, "titleFontSize": 30, "titleLineHeight": 37.5}}}},
      {"data": {"values": [{}]}, "mark": {"type": "text", "fontSize": 30, "baseline": "alphabetic", "color": "black"},
       "encoding": {"x": {"datum": 2.66, "type": "quantitative", "axis": null}, "y": {"datum": 1.0, "type": "quantitative", "axis": {"orient": "right", "values": [0, 0.5, 1], "tickSize": 4, "labels": false, "title": null}}, "text": {"value": "e"}}}
    ],
    "resolve": {"axis": {"x": "independent", "y": "independent"}}
  },
  {
    "width": 829, "height": 193,
    "layer": [
      {"data": {"name": "bands"}, "mark": {"type": "rect", "color": "#c0c0c0"},
       "encoding": {"x": {"field": "start", "type": "quantitative", "scale": {"domain": [0, 40], "nice": false, "zero": false},
         "axis": {"orient": "top", "values": [0,1,2,3,4,5,6,7,8,9,10,11,12,13,14,15,16,17,18,19,20,21,22,23,24,25,26,27,28,29,30,31,32,33,34,35,36,37,38,39,40], "tickSize": {"condition": {"test": "datum.value % 5 === 0", "value": -17}, "value": -9}, "labels": false, "title": null}},
        "x2": {"field": "end"}}},
      {"data": {"name": "temp"}, "mark": {"type": "line", "color": "black", "strokeWidth": 2.4},
       "encoding": {"x": {"field": "day", "type": "quantitative",
          "axis": {"orient": "bottom", "values": [0,1,2,3,4,5,6,7,8,9,10,11,12,13,14,15,16,17,18,19,20,21,22,23,24,25,26,27,28,29,30,31,32,33,34,35,36,37,38,39,40], "ticks": false, "labelExpr": "datum.value % 5 === 0 ? timeFormat(datetime(2009, 10, 21 + datum.value), '%b %d') : ''", "labelPadding": 3, "title": "Date (2009)", "titleFontSize": 28, "titlePadding": 13}},
        "y": {"field": "t", "type": "quantitative", "scale": {"domain": [0, 14.1], "nice": false, "zero": false},
          "axis": {"orient": "left", "values": [3, 10], "offset": -15, "tickSize": 15, "domain": false, "labelPadding": 16, "title": ["Water", "Temperature", "(°C)"], "titleAngle": 0, "titleAlign": "left", "titleBaseline": "middle", "titleX": -266, "titleY": 58, "titleFontSize": 30, "titleLineHeight": 37.5}}}},
      {"data": {"values": [{}]}, "mark": {"type": "text", "fontSize": 30, "baseline": "alphabetic", "color": "black"},
       "encoding": {"x": {"datum": 2.37, "type": "quantitative", "axis": null}, "y": {"datum": 7.94, "type": "quantitative", "axis": {"orient": "right", "values": [3, 6.5, 10], "tickSize": 4, "labels": false, "title": null}}, "text": {"value": "f"}}}
    ],
    "resolve": {"axis": {"x": "independent", "y": "independent"}}
  }
]
}
